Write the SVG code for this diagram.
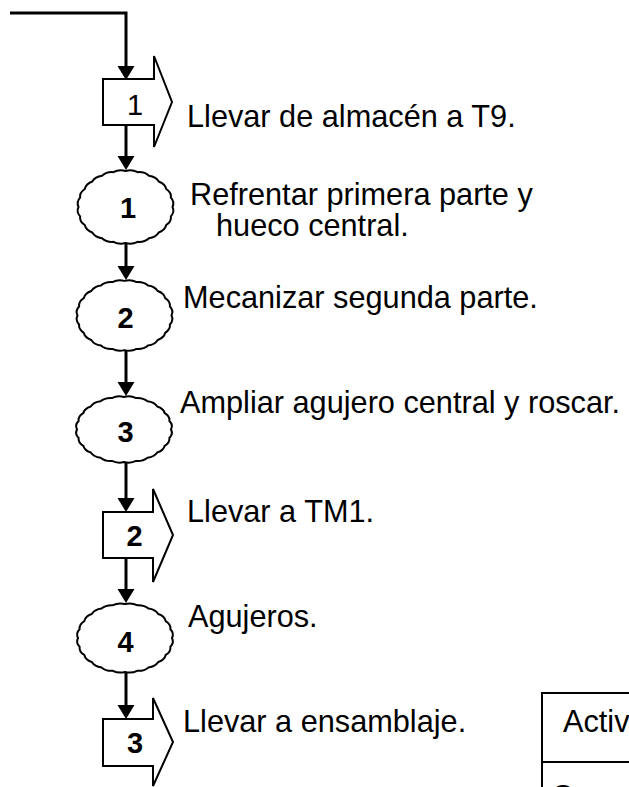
<svg xmlns="http://www.w3.org/2000/svg" xmlns:xlink="http://www.w3.org/1999/xlink" width="629" height="787" viewBox="0 0 629 787">
<style>
.shape{fill:#fff;stroke:#000;stroke-width:2;stroke-linejoin:miter}
.wavy{fill:#fff;stroke:#000;stroke-width:2}
.conn{fill:none;stroke:#000;stroke-width:3}
.lbl{font-family:"Liberation Sans",Arial,sans-serif;font-size:30.7px;fill:#000}
.num{font-family:"Liberation Sans",Arial,sans-serif;font-size:29px;fill:#000;text-anchor:middle}
.b{font-weight:bold}
.tbl{fill:none;stroke:#000;stroke-width:2}
</style>
<defs>
<marker id="ah" markerUnits="userSpaceOnUse" markerWidth="15" markerHeight="18" viewBox="0 -9 15 18" refX="0" refY="0" orient="auto">
<path d="M0,-8.5 L14,0 L0,8.5 Z" fill="#000"/>
</marker>
<path id="wv" vector-effect="non-scaling-stroke" d="M47,0 Q49.39,4.84 45.40,9.06 Q46.03,14.20 40.70,17.5 Q39.52,22.59 33.23,24.75 Q30.33,29.43 23.5,30.31 Q19.07,34.28 12.16,33.81 Q6.50,36.78 0,35 Q-6.50,36.78 -12.16,33.81 Q-19.07,34.28 -23.5,30.31 Q-30.33,29.43 -33.23,24.75 Q-39.52,22.59 -40.70,17.5 Q-46.03,14.20 -45.40,9.06 Q-49.39,4.84 -47,0 Q-49.39,-4.84 -45.40,-9.06 Q-46.03,-14.20 -40.70,-17.5 Q-39.52,-22.59 -33.23,-24.75 Q-30.33,-29.43 -23.5,-30.31 Q-19.07,-34.28 -12.16,-33.81 Q-6.50,-36.78 0,-35 Q6.50,-36.78 12.16,-33.81 Q19.07,-34.28 23.5,-30.31 Q30.33,-29.43 33.23,-24.75 Q39.52,-22.59 40.70,-17.5 Q46.03,-14.20 45.40,-9.06 Q49.39,-4.84 47,0 Z"/>
</defs>
<rect width="629" height="787" fill="#fff"/>
<g id="connectors">
<path class="conn" d="M10,13 H126 V66" marker-end="url(#ah)"/>
<path class="conn" d="M126,125 V156" marker-end="url(#ah)"/>
<path class="conn" d="M126,244 V266" marker-end="url(#ah)"/>
<path class="conn" d="M126,351 V382" marker-end="url(#ah)"/>
<path class="conn" d="M126,463 V498" marker-end="url(#ah)"/>
<path class="conn" d="M126,558 V589" marker-end="url(#ah)"/>
<path class="conn" d="M126,673 V705" marker-end="url(#ah)"/>
</g>
<g id="transport1">
<path class="shape" d="M103,79 H154 V56 L172,102 L154,147 V125 H103 Z"/>
<text class="num" x="135" y="115">1</text>
</g>
<g id="op1">
<use xlink:href="#wv" class="wavy" transform="translate(125.5,207) scale(1,1.03)"/>
<text class="num b" x="128" y="218">1</text>
</g>
<g id="op2">
<use xlink:href="#wv" class="wavy" transform="translate(124.5,315.5) scale(1,0.99)"/>
<text class="num b" x="125.5" y="328">2</text>
</g>
<g id="op3">
<use xlink:href="#wv" class="wavy" transform="translate(124,429.5) scale(1,0.93)"/>
<text class="num b" x="125.5" y="442">3</text>
</g>
<g id="transport2">
<path class="shape" d="M103,512 H153 V489 L173,535 L153,582 V558 H103 Z"/>
<text class="num b" x="134.5" y="546">2</text>
</g>
<g id="op4">
<use xlink:href="#wv" class="wavy" transform="translate(125,638) scale(1,0.97)"/>
<text class="num b" x="125.5" y="652">4</text>
</g>
<g id="transport3">
<path class="shape" d="M103,719 H153 V698 L173,742 L153,786 V766 H103 Z"/>
<text class="num b" x="135" y="753">3</text>
</g>
<g id="labels">
<text class="lbl" x="187" y="127">Llevar de almacén a T9.</text>
<text class="lbl"><tspan x="190" y="205">Refrentar primera parte y</tspan><tspan x="216" y="236">hueco central.</tspan></text>
<text class="lbl" x="183" y="308">Mecanizar segunda parte.</text>
<text class="lbl" x="180" y="413">Ampliar agujero central y roscar.</text>
<text class="lbl" x="187" y="522">Llevar a TM1.</text>
<text class="lbl" x="188" y="627">Agujeros.</text>
<text class="lbl" x="183" y="732">Llevar a ensamblaje.</text>
</g>
<g id="table">
<path class="tbl" d="M629,693 H542 V787 M542,762 H629"/>
<text class="lbl" x="563" y="732">Activ</text>
<text class="lbl" x="551" y="807">O</text>
</g>
</svg>
